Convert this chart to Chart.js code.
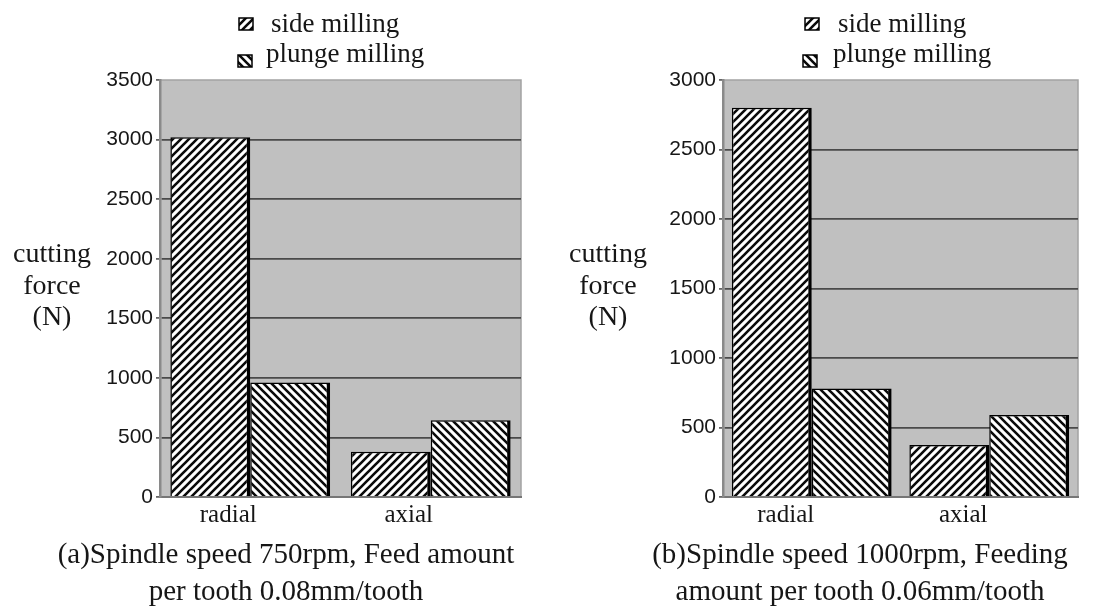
<!DOCTYPE html>
<html>
<head>
<meta charset="utf-8">
<script src="https://cdn.jsdelivr.net/npm/chart.js@4.4.1/dist/chart.umd.min.js"></script>
<style>
  html, body { margin: 0; padding: 0; background: #ffffff; }
  #wrap { position: relative; width: 1103px; height: 610px; overflow: hidden; }
  .panel { position: absolute; top: 0; height: 610px; }
  #panelA { left: 0; width: 551px; }
  #panelB { left: 551px; width: 552px; }
</style>
</head>
<body>
<div id="wrap">
  <div class="panel" id="panelA"><canvas id="chartA"></canvas></div>
  <div class="panel" id="panelB"><canvas id="chartB"></canvas></div>
</div>
<script>
// ---- data ----
const categories = ['radial', 'axial'];
const seriesNames = ['side milling', 'plunge milling'];

// (a) 750 rpm, 0.08 mm/tooth
const sideMillingA = [3020, 380];
const plungeMillingA = [960, 645];
const yTicksA = [0, 500, 1000, 1500, 2000, 2500, 3000, 3500];
const captionA = ['(a)Spindle speed 750rpm, Feed amount', 'per tooth 0.08mm/tooth'];

// (b) 1000 rpm, 0.06 mm/tooth
const sideMillingB = [2800, 375];
const plungeMillingB = [780, 590];
const yTicksB = [0, 500, 1000, 1500, 2000, 2500, 3000];
const captionB = ['(b)Spindle speed 1000rpm, Feeding', 'amount per tooth 0.06mm/tooth'];

const yTitleLines = ['cutting', 'force', '(N)'];

// ---- hatch fills ----
function hatch(dir) {
  const s = 8;
  const c = document.createElement('canvas');
  c.width = s; c.height = s;
  const g = c.getContext('2d');
  g.fillStyle = '#ffffff';
  g.fillRect(0, 0, s, s);
  g.strokeStyle = '#0a0a0a';
  g.lineWidth = 2.6;
  g.beginPath();
  if (dir === '/') {
    for (let k = -1; k <= 1; k++) {
      g.moveTo(-2 + k * s, s + 2);
      g.lineTo(s + 2 + k * s, -2);
    }
  } else {
    for (let k = -1; k <= 1; k++) {
      g.moveTo(-2 + k * s, -2);
      g.lineTo(s + 2 + k * s, s + 2);
    }
  }
  g.stroke();
  return document.createElement('canvas').getContext('2d').createPattern(c, 'repeat');
}
const fwdHatch = hatch('/');
const backHatch = hatch('\\');

const SERIF = '"Liberation Serif", "Times New Roman", serif';
const SANS = '"Liberation Sans", Arial, sans-serif';
const INK = '#161616';

// plot backdrop, legend, vertical title and caption
const decor = {
  id: 'decor',
  beforeDraw(chart) {
    const a = chart.chartArea;
    const ctx = chart.ctx;
    ctx.save();
    ctx.fillStyle = '#c0c0c0';
    ctx.fillRect(a.left, a.top, a.right - a.left, a.bottom - a.top);
    ctx.strokeStyle = '#a2a2a2';
    ctx.lineWidth = 1.5;
    ctx.beginPath();
    ctx.moveTo(a.left, a.top);
    ctx.lineTo(a.right, a.top);
    ctx.lineTo(a.right, a.bottom);
    ctx.stroke();
    ctx.restore();
  },
  afterDraw(chart, args, o) {
    const ctx = chart.ctx;
    ctx.save();
    ctx.fillStyle = INK;
    ctx.textBaseline = 'alphabetic';

    // legend
    ctx.font = '27px ' + SERIF;
    ctx.textAlign = 'left';
    chart.data.datasets.forEach((ds, i) => {
      const it = o.legend[i];
      ctx.fillStyle = ds.backgroundColor;
      ctx.fillRect(it.bx, it.by, 14, 12);
      ctx.strokeStyle = '#000';
      ctx.lineWidth = 1.5;
      ctx.strokeRect(it.bx, it.by, 14, 12);
      ctx.fillStyle = INK;
      ctx.fillText(ds.label, it.tx, it.ty);
    });

    // vertical-axis title, set horizontally on three lines
    ctx.font = '28px ' + SERIF;
    ctx.textAlign = 'center';
    o.yTitle.forEach((line, i) => {
      ctx.fillText(line, o.yTitleX, o.yTitleY + i * 31.5);
    });

    // caption
    ctx.font = '29px ' + SERIF;
    o.caption.forEach((line, i) => {
      ctx.fillText(line, o.captionX, o.captionY + i * 37);
    });
    ctx.restore();
  }
};

function makeChart(id, side, plunge, yTicks, caption, lay) {
  const yMax = yTicks[yTicks.length - 1];
  return new Chart(document.getElementById(id), {
    type: 'bar',
    data: {
      labels: categories,
      datasets: [
        { label: seriesNames[0], data: side, backgroundColor: fwdHatch },
        { label: seriesNames[1], data: plunge, backgroundColor: backHatch }
      ]
    },
    plugins: [decor],
    options: {
      responsive: true,
      maintainAspectRatio: false,
      animation: false,
      layout: { padding: { top: 80, left: 0, right: lay.padRight, bottom: 78 } },
      datasets: {
        bar: {
          categoryPercentage: lay.catPct,
          barPercentage: 1.0,
          borderColor: '#000000',
          borderWidth: { top: 1.5, left: 1.5, right: 3.5, bottom: 0 },
          borderSkipped: false
        }
      },
      plugins: {
        legend: { display: false },
        tooltip: { enabled: false },
        decor: {
          legend: lay.legend,
          yTitle: yTitleLines,
          yTitleX: lay.yTitleX,
          yTitleY: 262,
          caption: caption,
          captionX: lay.captionX,
          captionY: 563
        }
      },
      scales: {
        x: {
          grid: { display: false, drawTicks: false },
          border: { display: true, color: '#767676', width: 2 },
          ticks: {
            padding: 3,
            labelOffset: lay.labelOffset,
            color: INK,
            font: { family: SERIF, size: 25 }
          },
          afterFit(s) { s.height = 35; }
        },
        y: {
          min: 0,
          max: yMax,
          afterBuildTicks(s) { s.ticks = yTicks.map(v => ({ value: v })); },
          grid: {
            color: c => (c.tick && (c.tick.value === 0 || c.tick.value === yMax)) ? 'rgba(0,0,0,0)' : '#4a4a4a',
            lineWidth: 1.8,
            tickColor: '#666666',
            tickLength: 4
          },
          border: { display: true, color: '#8a8a8a', width: 2.5 },
          ticks: {
            padding: 3,
            color: INK,
            font: { family: SANS, size: 21 },
            callback: v => String(v)
          },
          afterFit(s) { s.width = lay.yWidth; }
        }
      }
    }
  });
}

makeChart('chartA', sideMillingA, plungeMillingA, yTicksA, captionA, {
  padRight: 30, yWidth: 160, labelOffset: -22, catPct: 0.885,
  yTitleX: 52, captionX: 286,
  legend: [ { bx: 239, by: 18, tx: 271, ty: 32 }, { bx: 238, by: 55, tx: 266, ty: 62 } ]
});

makeChart('chartB', sideMillingB, plungeMillingB, yTicksB, captionB, {
  padRight: 25, yWidth: 172, labelOffset: -26, catPct: 0.9,
  yTitleX: 57, captionX: 309,
  legend: [ { bx: 254, by: 18, tx: 287, ty: 32 }, { bx: 252, by: 55, tx: 282, ty: 62 } ]
});
</script>
</body>
</html>
